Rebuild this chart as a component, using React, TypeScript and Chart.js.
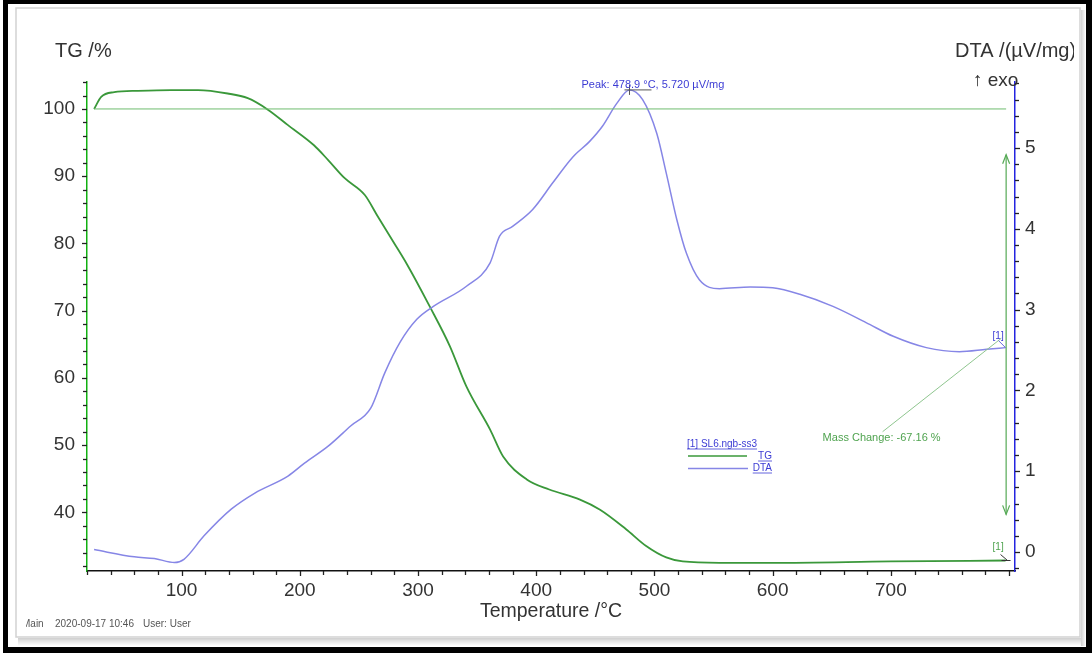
import React, { useEffect, useRef } from 'react';
import { Chart, registerables } from 'chart.js';

Chart.register(...registerables);

// ---- data ----
const tgTemp = [26, 32, 43, 63, 91, 114, 139, 156, 173, 190, 212, 224, 238, 255, 266, 280, 291, 310, 327, 341, 361, 372, 392, 411, 437, 454, 476, 493, 510, 524, 555, 600, 700, 797];
const tgMass = [100.0, 101.8, 102.5, 102.7, 102.8, 102.8, 102.3, 101.6, 99.9, 97.6, 94.6, 92.4, 89.7, 87.2, 84.0, 80.0, 76.8, 70.6, 64.7, 58.7, 52.3, 48.3, 44.9, 43.4, 41.9, 40.4, 37.5, 35.0, 33.3, 32.7, 32.5, 32.5, 32.7, 32.84];

const dtaTemp = [26, 60, 77, 94, 102, 119, 142, 162, 190, 204, 224, 243, 260, 272, 285, 299, 313, 341, 361, 369, 380, 397, 414, 431, 445, 456, 468, 478.9, 490, 502, 510, 519, 527, 538, 555, 581, 600, 623, 651, 679, 702, 730, 758, 781, 797];
const dtaSignal = [0.03, -0.06, -0.08, -0.13, -0.09, 0.2, 0.53, 0.73, 0.94, 1.1, 1.31, 1.56, 1.78, 2.22, 2.6, 2.88, 3.04, 3.29, 3.58, 3.91, 4.03, 4.24, 4.57, 4.89, 5.08, 5.27, 5.55, 5.72, 5.6, 5.18, 4.69, 4.11, 3.7, 3.37, 3.26, 3.28, 3.27, 3.19, 3.04, 2.84, 2.67, 2.53, 2.48, 2.51, 2.53];

const xTicks = [100, 200, 300, 400, 500, 600, 700];
const tgTicks = [40, 50, 60, 70, 80, 90, 100];
const dtaTicks = [0, 1, 2, 3, 4, 5];

const refLineTemp = [26, 797.5];
const refLineMass = [100, 100];
const massArrowTemp = [797.5, 797.5];
const massArrowMass = [93.2, 39.7];
const leaderTemp = [693, 793.5];
const leaderMass = [52.0, 65.9];

const peakTemp = 478.9;
const peakSignal = 5.72;
const peakLabel = 'Peak: 478.9 °C, 5.720 µV/mg';
const massChangeLabel = 'Mass Change: -67.16 %';
const legendTitle = '[1] SL6.ngb-ss3';
const legendTG = 'TG';
const legendDTA = 'DTA';
const tgTitle = 'TG /%';
const dtaTitle = 'DTA /(µV/mg)';
const exoLabel = '↑ exo';
const xTitle = 'Temperature /°C';
const footerMain = 'Main';
const footerDate = '2020-09-17 10:46';
const footerUser = 'User: User';
const curveMarker = '[1]';

const FONT = '"Liberation Sans", Arial, sans-serif';
const W = 1092;
const H = 653;

const TG_COLOR = '#3a983a';
const DTA_COLOR = '#8686e6';
const TEXT_BLUE = '#3c3cd4';
const TEXT_GREEN = '#4fa34f';

const toPts = (xs: number[], ys: number[]) => xs.map((v, i) => ({ x: v, y: ys[i] }));

const overlay = {
  id: 'overlay',
  beforeDraw(chart: any) {
    const ctx = chart.ctx;
    ctx.save();
    ctx.fillStyle = '#ffffff';
    ctx.fillRect(0, 0, W, H);
    ctx.restore();
  },
  afterDraw(chart: any) {
    const ctx: CanvasRenderingContext2D = chart.ctx;
    const { x, y, y1 } = chart.scales;
    const a = chart.chartArea;
    ctx.save();

    // tick marks
    ctx.strokeStyle = '#222';
    ctx.lineWidth = 1.3;
    for (let i = 1; i <= 40; i++) {
      const v = i * 20;
      if (v > x.max) break;
      const px = Math.round(x.getPixelForValue(v)) + 0.5;
      const len = v % 100 === 0 ? 5 : 4;
      ctx.beginPath();
      ctx.moveTo(px, a.bottom);
      ctx.lineTo(px, a.bottom + len);
      ctx.stroke();
    }
    for (let i = 16; i <= 52; i++) {
      const v = i * 2;
      if (v < y.min || v > y.max) continue;
      const py = Math.round(y.getPixelForValue(v)) + 0.5;
      const len = v % 10 === 0 ? 5 : 4;
      ctx.beginPath();
      ctx.moveTo(a.left, py);
      ctx.lineTo(a.left - len, py);
      ctx.stroke();
    }
    for (let i = -1; i <= 29; i++) {
      const v = i * 0.2;
      if (v < y1.min || v > y1.max) continue;
      const py = Math.round(y1.getPixelForValue(v)) + 0.5;
      const len = i % 5 === 0 ? 5 : 4;
      ctx.beginPath();
      ctx.moveTo(a.right, py);
      ctx.lineTo(a.right + len, py);
      ctx.stroke();
    }

    // mass change arrow heads
    const ax = x.getPixelForValue(massArrowTemp[0]);
    const aTop = y.getPixelForValue(massArrowMass[0]);
    const aBot = y.getPixelForValue(massArrowMass[1]);
    ctx.strokeStyle = '#55a955';
    ctx.lineWidth = 1.2;
    ctx.beginPath();
    ctx.moveTo(ax - 3.5, aTop + 9);
    ctx.lineTo(ax, aTop);
    ctx.lineTo(ax + 3.5, aTop + 9);
    ctx.moveTo(ax - 3.5, aBot - 9);
    ctx.lineTo(ax, aBot);
    ctx.lineTo(ax + 3.5, aBot - 9);
    ctx.stroke();

    // peak marker
    const ppx = x.getPixelForValue(peakTemp);
    const ppy = y1.getPixelForValue(peakSignal);
    ctx.strokeStyle = '#555';
    ctx.lineWidth = 1;
    ctx.beginPath();
    ctx.moveTo(ppx - 5, ppy);
    ctx.lineTo(ppx + 22, ppy);
    ctx.moveTo(ppx, ppy - 5);
    ctx.lineTo(ppx, ppy + 5);
    ctx.stroke();
    ctx.font = `11px ${FONT}`;
    ctx.fillStyle = TEXT_BLUE;
    ctx.textAlign = 'left';
    ctx.textBaseline = 'alphabetic';
    ctx.fillText(peakLabel, ppx - 48, ppy - 2);

    // mass change label
    const lx = x.getPixelForValue(leaderTemp[0]);
    const ly = y.getPixelForValue(leaderMass[0]);
    ctx.fillStyle = TEXT_GREEN;
    ctx.font = `11px ${FONT}`;
    ctx.fillText(massChangeLabel, lx - 60, ly + 9);

    // [1] markers
    const dEndX = x.getPixelForValue(dtaTemp[dtaTemp.length - 1]);
    const dEndY = y1.getPixelForValue(dtaSignal[dtaSignal.length - 1]);
    ctx.font = `10px ${FONT}`;
    ctx.fillStyle = TEXT_BLUE;
    ctx.fillText(curveMarker, dEndX - 13, dEndY - 9);
    ctx.strokeStyle = '#6a6ae0';
    ctx.beginPath();
    ctx.moveTo(dEndX - 7, dEndY - 7);
    ctx.lineTo(dEndX, dEndY);
    ctx.stroke();
    const tEndX = x.getPixelForValue(tgTemp[tgTemp.length - 1]);
    const tEndY = y.getPixelForValue(tgMass[tgMass.length - 1]);
    ctx.fillStyle = TEXT_GREEN;
    ctx.fillText(curveMarker, tEndX - 13, tEndY - 11);
    ctx.strokeStyle = '#333';
    ctx.beginPath();
    ctx.moveTo(tEndX - 5, tEndY - 6);
    ctx.lineTo(tEndX + 2, tEndY);
    ctx.moveTo(tEndX - 4, tEndY);
    ctx.lineTo(tEndX + 5, tEndY);
    ctx.stroke();

    // legend
    ctx.font = `10px ${FONT}`;
    ctx.fillStyle = TEXT_BLUE;
    ctx.textAlign = 'left';
    ctx.fillText(legendTitle, 687, 447);
    let tw = ctx.measureText(legendTitle).width;
    ctx.strokeStyle = TEXT_BLUE;
    ctx.lineWidth = 0.8;
    ctx.beginPath();
    ctx.moveTo(687, 449);
    ctx.lineTo(687 + tw, 449);
    ctx.stroke();
    ctx.textAlign = 'right';
    ctx.fillText(legendTG, 772, 459);
    tw = ctx.measureText(legendTG).width;
    ctx.beginPath();
    ctx.moveTo(772 - tw, 461);
    ctx.lineTo(772, 461);
    ctx.stroke();
    ctx.fillText(legendDTA, 772, 471);
    tw = ctx.measureText(legendDTA).width;
    ctx.beginPath();
    ctx.moveTo(772 - tw, 473);
    ctx.lineTo(772, 473);
    ctx.stroke();
    ctx.lineWidth = 1.3;
    ctx.strokeStyle = TG_COLOR;
    ctx.beginPath();
    ctx.moveTo(688, 456);
    ctx.lineTo(747, 456);
    ctx.stroke();
    ctx.strokeStyle = DTA_COLOR;
    ctx.beginPath();
    ctx.moveTo(688, 468.5);
    ctx.lineTo(748, 468.5);
    ctx.stroke();

    // axis titles
    ctx.textAlign = 'left';
    ctx.fillStyle = '#333';
    ctx.font = `20px ${FONT}`;
    ctx.fillText(tgTitle, 55, 57);
    ctx.save();
    ctx.beginPath();
    ctx.rect(0, 0, 1074, H);
    ctx.clip();
    ctx.fillText(dtaTitle, 955, 57);
    ctx.restore();
    ctx.font = `19px ${FONT}`;
    ctx.fillText(exoLabel, 973, 86);
    ctx.textAlign = 'center';
    ctx.font = `19.5px ${FONT}`;
    ctx.fillText(xTitle, (a.left + a.right) / 2, 617);

    // footer
    ctx.save();
    ctx.beginPath();
    ctx.rect(26, 600, 400, 40);
    ctx.clip();
    ctx.textAlign = 'left';
    ctx.fillStyle = '#555';
    ctx.font = `10px ${FONT}`;
    ctx.fillText(footerMain, 22, 627);
    ctx.fillText(footerDate, 55, 627);
    ctx.fillText(footerUser, 143, 627);
    ctx.restore();

    // panel border + shadow
    ctx.strokeStyle = '#d2d2d2';
    ctx.lineWidth = 1.5;
    ctx.strokeRect(16, 8, 1064, 629);
    const gb = ctx.createLinearGradient(0, 638, 0, 646);
    gb.addColorStop(0, '#cfcfcf');
    gb.addColorStop(1, '#ffffff');
    ctx.fillStyle = gb;
    ctx.fillRect(18, 638, 1066, 8);
    const gr = ctx.createLinearGradient(1081, 0, 1086, 0);
    gr.addColorStop(0, '#cfcfcf');
    gr.addColorStop(1, '#ffffff');
    ctx.fillStyle = gr;
    ctx.fillRect(1081, 10, 5, 636);

    // outer black frame
    ctx.fillStyle = '#000';
    ctx.fillRect(3, 0, W - 3, 4);
    ctx.fillRect(3, 0, 5, H);
    ctx.fillRect(1086, 0, 6, H);
    ctx.fillRect(3, 647, W - 3, 6);
    ctx.restore();
  },
};

export default function App() {
  const ref = useRef<HTMLCanvasElement | null>(null);

  useEffect(() => {
    if (!ref.current) return;
    const tickFont = { family: FONT, size: 19 };
    const chart = new Chart(ref.current, {
      type: 'line',
      data: {
        datasets: [
          {
            label: 'ref',
            data: toPts(refLineTemp, refLineMass),
            yAxisID: 'y',
            borderColor: '#6fbd6f',
            borderWidth: 1,
            pointRadius: 0,
          },
          {
            label: 'massArrow',
            data: toPts(massArrowTemp, massArrowMass),
            yAxisID: 'y',
            borderColor: '#55a955',
            borderWidth: 1.2,
            pointRadius: 0,
          },
          {
            label: 'leader',
            data: toPts(leaderTemp, leaderMass),
            yAxisID: 'y',
            borderColor: '#8fc68f',
            borderWidth: 1,
            pointRadius: 0,
          },
          {
            label: 'DTA',
            data: toPts(dtaTemp, dtaSignal),
            yAxisID: 'y1',
            borderColor: DTA_COLOR,
            borderWidth: 1.5,
            pointRadius: 0,
            cubicInterpolationMode: 'monotone',
          },
          {
            label: 'TG',
            data: toPts(tgTemp, tgMass),
            yAxisID: 'y',
            borderColor: TG_COLOR,
            borderWidth: 1.8,
            pointRadius: 0,
            cubicInterpolationMode: 'monotone',
          },
        ],
      },
      options: {
        responsive: false,
        animation: false,
        events: [],
        layout: { padding: { top: 82, left: 0, right: 0, bottom: 0 } },
        plugins: { legend: { display: false }, tooltip: { enabled: false } },
        scales: {
          x: {
            type: 'linear',
            position: 'bottom',
            min: 20,
            max: 805,
            afterBuildTicks: (s: any) => {
              s.ticks = xTicks.map((v) => ({ value: v }));
            },
            afterFit: (s: any) => {
              s.height = 82;
            },
            grid: { display: false, drawTicks: false },
            border: { display: true, color: '#111', width: 1.5 },
            ticks: { font: tickFont, color: '#333', padding: 8, maxRotation: 0, autoSkip: false },
          },
          y: {
            type: 'linear',
            position: 'left',
            min: 31.28,
            max: 104.01,
            afterBuildTicks: (s: any) => {
              s.ticks = tgTicks.map((v) => ({ value: v }));
            },
            afterFit: (s: any) => {
              s.width = 87;
            },
            grid: { display: false, drawTicks: false },
            border: { display: true, color: '#10b010', width: 1.5 },
            ticks: { font: tickFont, color: '#333', padding: 12, autoSkip: false },
          },
          y1: {
            type: 'linear',
            position: 'right',
            min: -0.235,
            max: 5.818,
            afterBuildTicks: (s: any) => {
              s.ticks = dtaTicks.map((v) => ({ value: v }));
            },
            afterFit: (s: any) => {
              s.width = 77;
            },
            grid: { display: false, drawTicks: false },
            border: { display: true, color: '#2424e0', width: 1.5 },
            ticks: { font: tickFont, color: '#333', padding: 10, autoSkip: false },
          },
        },
      } as any,
      plugins: [overlay],
    });
    return () => chart.destroy();
  }, []);

  return (
    <div style={{ position: 'fixed', left: 0, top: 0, width: W, height: H, background: '#fff' }}>
      <canvas ref={ref} width={W} height={H} style={{ display: 'block', width: W, height: H }} />
    </div>
  );
}
